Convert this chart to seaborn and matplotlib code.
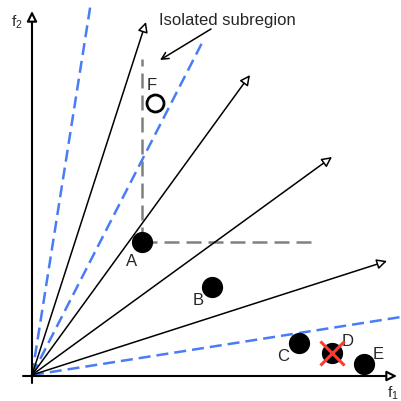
import matplotlib
matplotlib.use('Agg')
import matplotlib.pyplot as plt
import seaborn as sns
import pandas as pd

# all positions in picture pixels (x right, y down)
origin = (32, 376)
ray_x = [146, 250, 332, 387]
ray_y = [23, 76, 158, 262]
bound_x = [91, 204, 401]
bound_y = [3, 40, 318]
pt_names = ['A', 'B', 'C', 'D', 'E']
pt_x = [142, 212, 299, 332, 364]
pt_y = [243, 288, 344, 354, 365]
lab_x = [132, 198, 283, 348, 378]
lab_y = [262, 301, 357, 342, 355]
iso_name = 'F'
iso_x, iso_y = 155, 104

sns.set_style('white')
plt.rcParams['font.family'] = ['Liberation Sans', 'DejaVu Sans']

fig = plt.figure(figsize=(4.01, 4.02), dpi=100)
ax = fig.add_axes([0, 0, 1, 1])
ax.set_xlim(0, 401)
ax.set_ylim(402, 0)
ax.axis('off')

blue = '#4a7cf5'
# blue dashed boundaries
for bx, by in zip(bound_x, bound_y):
    ax.plot([origin[0], bx], [origin[1], by], color=blue, lw=1.8, dashes=(4.8, 2.4), zorder=2)

# gray dashed box from A
ax.plot([pt_x[0], pt_x[0]], [pt_y[0], 60], color='#808080', lw=1.8, dashes=(6, 2.8), zorder=1)
ax.plot([pt_x[0], 316], [pt_y[0], pt_y[0]], color='#808080', lw=1.8, dashes=(6, 2.8), zorder=1)

# reference rays
for rx, ry in zip(ray_x, ray_y):
    ax.annotate('', xy=(rx, ry), xytext=origin,
                arrowprops=dict(arrowstyle='-|>,head_length=0.6,head_width=0.3',
                                fc='white', ec='black', lw=1.1, shrinkA=0, shrinkB=0),
                zorder=3)

# axes
ax.annotate('', xy=(397, 377), xytext=(23, 377),
            arrowprops=dict(arrowstyle='-|>,head_length=0.6,head_width=0.3',
                            fc='white', ec='black', lw=1.5, shrinkA=0, shrinkB=0))
ax.annotate('', xy=(32, 12), xytext=(32, 384),
            arrowprops=dict(arrowstyle='-|>,head_length=0.6,head_width=0.3',
                            fc='white', ec='black', lw=1.5, shrinkA=0, shrinkB=0))
ax.text(17, 22, r'$\mathregular{f_2}$', fontsize=11, ha='center', va='center')
ax.text(393, 393, r'$\mathregular{f_1}$', fontsize=11, ha='center', va='center')

# points
df = pd.DataFrame({'x': pt_x, 'y': pt_y, 'name': pt_names})
sns.scatterplot(data=df, x='x', y='y', s=200, color='black', edgecolor='black', ax=ax, zorder=4, legend=False)
ax.scatter([iso_x], [iso_y], s=150, facecolor='white', edgecolor='black', linewidth=2, zorder=4)
for n, lx, ly in zip(pt_names, lab_x, lab_y):
    ax.text(lx, ly, n, fontsize=12, ha='center', va='center')
ax.text(152, 86, iso_name, fontsize=12, ha='center', va='center')

# dominated marker on D
d = pt_names.index('D')
ax.scatter([pt_x[d]], [pt_y[d]], s=300, marker='x', color='#ff3a2f', linewidth=2.2, zorder=5)

# annotation
ax.annotate('Isolated subregion', xy=(160, 61), xytext=(159, 20),
            fontsize=12, ha='left', va='center')
ax.annotate('', xy=(160, 61), xytext=(211, 30),
            arrowprops=dict(arrowstyle='->,head_length=0.5,head_width=0.25', color='black', lw=1.1,
                            shrinkA=0, shrinkB=0))

fig.savefig('out.png', dpi=100)
